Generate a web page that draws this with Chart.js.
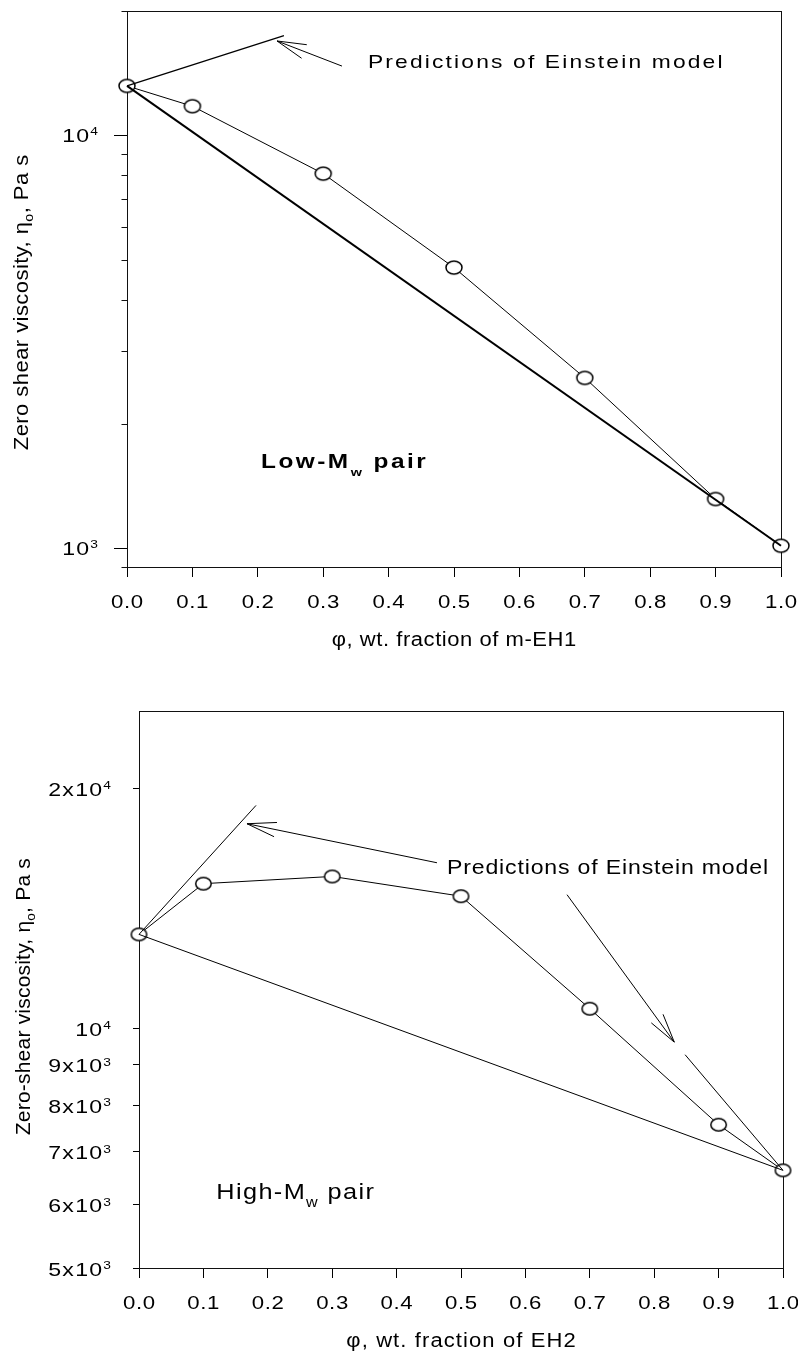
<!DOCTYPE html>
<html><head><meta charset="utf-8">
<script src="https://cdn.jsdelivr.net/npm/chart.js@4.4.1/dist/chart.umd.min.js"></script>
<style>
html,body{margin:0;padding:0;background:#fff;}
#wrap{position:relative;width:798px;height:1351px;background:#fff;}
canvas{position:absolute;left:0;}
</style></head><body>
<div id="wrap">
<canvas id="c1" width="798" height="675" style="top:0"></canvas>
<canvas id="c2" width="798" height="676" style="top:675px"></canvas>
</div>
<script>
// ---------- data ----------
const phi = [0, 0.1, 0.3, 0.5, 0.7, 0.9, 1.0];
const xTicks = [0, 0.1, 0.2, 0.3, 0.4, 0.5, 0.6, 0.7, 0.8, 0.9, 1.0];
const xTickLabels = ['0.0','0.1','0.2','0.3','0.4','0.5','0.6','0.7','0.8','0.9','1.0'];

// Low-Mw pair (top)
const lowMwViscosity = [13170, 11760, 8073, 4780, 2584, 1315, 1013];
const lowEinsteinLowerX = [0, 1.0];
const lowEinsteinLowerY = [13170, 1013];
const lowEinsteinUpperX = [0, 0.24];
const lowEinsteinUpperY = [13170, 17440];
const lowYTicks = [900, 1000, 2000, 3000, 4000, 5000, 6000, 7000, 8000, 9000, 10000, 20000];
const lowYTickLabels = ['', '10³', '', '', '', '', '', '', '', '', '10⁴', ''];
const lowYRange = [900, 20000];

// High-Mw pair (bottom)
const highMwViscosity = [13110, 15180, 15500, 14640, 10576, 7564, 6630];
const highEinsteinLowerX = [0, 1.0];
const highEinsteinLowerY = [13110, 6630];
const highEinsteinUpperX = [0, 0.1817];
const highEinsteinUpperY = [13110, 19030];
const highEinsteinRightX = [0.848, 1.0];
const highEinsteinRightY = [9260, 6630];
const highYTicks = [5000, 6000, 7000, 8000, 9000, 10000, 20000];
const highYTickLabels = ['5x10³', '6x10³', '7x10³', '8x10³', '9x10³', '10⁴', '2x10⁴'];
const highYRange = [5000, 25000];

// ---------- helpers ----------
const FONT = "Arial, 'Liberation Sans', Helvetica, sans-serif";
const SUP = {'⁰':'0','¹':'1','²':'2','³':'3','⁴':'4','⁵':'5','⁶':'6','⁷':'7','⁸':'8','⁹':'9'};
function pts(xs, ys) { return xs.map((x, i) => ({x: x, y: ys[i]})); }
function ellipseMarker(w, h, lw) {
  const c = document.createElement('canvas');
  c.width = w + 4; c.height = h + 4;
  const g = c.getContext('2d');
  g.beginPath();
  g.ellipse(c.width / 2, c.height / 2, w / 2, h / 2, 0, 0, Math.PI * 2);
  g.fillStyle = '#fff'; g.fill();
  g.lineWidth = lw; g.strokeStyle = '#000'; g.stroke();
  return c;
}
function fontOf(p) { return (p.weight || 'normal') + ' ' + p.size + 'px ' + FONT; }
// rich text: parts [{t,size,weight,dy}], horizontal stretch hs, letter spacing sp
function drawRich(ctx, parts, x, y, sp, hs, align) {
  ctx.save();
  ctx.textBaseline = 'alphabetic';
  ctx.textAlign = 'left';
  ctx.fillStyle = '#000';
  ctx.letterSpacing = '0px';
  const widths = parts.map(p => { ctx.font = fontOf(p); return ctx.measureText(p.t).width + sp * [...p.t].length; });
  const total = widths.reduce((a, b) => a + b, 0) - sp;
  ctx.translate(x, y);
  ctx.scale(hs, 1);
  let cx = align === 'center' ? -total / 2 : align === 'right' ? -total : 0;
  ctx.letterSpacing = sp + 'px';
  parts.forEach((p, i) => { ctx.font = fontOf(p); ctx.fillText(p.t, cx, p.dy || 0); cx += widths[i]; });
  ctx.restore();
}
function labelParts(s, size, supSize, supDy) {
  const chars = [...s];
  let i = chars.length;
  while (i > 0 && SUP[chars[i - 1]]) i--;
  const parts = [{t: chars.slice(0, i).join(''), size: size}];
  const sup = chars.slice(i).map(c => SUP[c]).join('');
  if (sup) parts.push({t: sup, size: supSize, dy: supDy});
  return parts;
}
function drawArrow(ctx, x1, y1, x2, y2, len, ang) {
  ctx.beginPath();
  ctx.moveTo(x1, y1); ctx.lineTo(x2, y2);
  const a = Math.atan2(y1 - y2, x1 - x2);
  ctx.moveTo(x2 + len * Math.cos(a + ang), y2 + len * Math.sin(a + ang));
  ctx.lineTo(x2, y2);
  ctx.lineTo(x2 + len * Math.cos(a - ang), y2 + len * Math.sin(a - ang));
  ctx.stroke();
}

const notesPlugin = {
  id: 'notes',
  beforeDatasetsDraw(chart, args, o) {
    const {ctx, chartArea: a} = chart;
    ctx.save();
    ctx.strokeStyle = '#111'; ctx.lineWidth = 1;
    const l = Math.round(a.left) + 0.5, t = Math.round(a.top) + 0.5;
    const r = Math.round(a.right) + 0.5, b = Math.round(a.bottom) + 0.5;
    ctx.strokeRect(l, t, r - l, b - t);
    const ys = chart.scales.y;
    if (o.minorLen) {
      ctx.beginPath();
      ys.ticks.forEach((tk, i) => {
        if (o.yLabels[i] === '') {
          const py = Math.round(ys.getPixelForValue(tk.value)) + 0.5;
          ctx.moveTo(l - o.minorLen, py); ctx.lineTo(l, py);
        }
      });
      ctx.stroke();
    }
    ctx.restore();
  },
  afterDraw(chart, args, o) {
    const {ctx, chartArea: a} = chart;
    const xs = chart.scales.x, ys = chart.scales.y;
    const px = v => xs.getPixelForValue(v), py = v => ys.getPixelForValue(v);
    ctx.save();
    ctx.strokeStyle = '#000'; ctx.lineWidth = 1;
    // tick labels, placed by the library scales
    xs.ticks.forEach((tk, i) => {
      drawRich(ctx, [{t: xTickLabels[i], size: 18.5}], px(tk.value), a.bottom + 41, 0.5, 1.2, 'center');
    });
    ys.ticks.forEach((tk, i) => {
      const s = o.yLabels[i];
      if (s) drawRich(ctx, labelParts(s, 18.5, 11, -6.5), a.left - o.yLabelGap, py(tk.value) + o.yLabelDy, 1, 1.25, 'right');
    });
    (o.arrows || []).forEach(ar => {
      drawArrow(ctx, px(ar.from[0]), py(ar.from[1]), px(ar.to[0]), py(ar.to[1]), 30, 14 * Math.PI / 180);
    });
    (o.texts || []).forEach(tx => {
      drawRich(ctx, tx.parts, px(tx.at[0]), py(tx.at[1]), tx.spacing, tx.hs, 'left');
    });
    const yt = o.yTitle;
    ctx.save();
    ctx.translate(yt.x, yt.y);
    ctx.rotate(-Math.PI / 2);
    drawRich(ctx, yt.parts, 0, 0, yt.spacing, yt.hs, 'center');
    ctx.restore();
    const xt = o.xTitle;
    drawRich(ctx, xt.parts, (a.left + a.right) / 2, xt.y, xt.spacing, xt.hs, 'center');
    ctx.restore();
  }
};

function lineDs(xs, ys, width) {
  return {data: pts(xs, ys), borderColor: '#000', borderWidth: width, pointRadius: 0,
          fill: false, tension: 0, clip: false};
}

function build(id, c) {
  return new Chart(document.getElementById(id), {
    type: 'line',
    data: {datasets: c.datasets},
    options: {
      responsive: false, animation: false, devicePixelRatio: 1, events: [],
      layout: {padding: c.padding},
      plugins: {legend: {display: false}, tooltip: {enabled: false}, notes: c.notes},
      scales: {
        x: {
          type: 'linear', min: 0, max: 1,
          afterBuildTicks: s => { s.ticks = xTicks.map(v => ({value: v})); },
          afterFit: s => { s.height = c.xHeight; },
          ticks: {display: false, callback: (v, i) => xTickLabels[i], autoSkip: false, maxRotation: 0},
          grid: {drawOnChartArea: false, drawTicks: true, tickLength: 10, color: '#000', tickColor: '#000', tickWidth: 1},
          border: {display: false}
        },
        y: {
          type: 'logarithmic', min: c.yRange[0], max: c.yRange[1],
          afterBuildTicks: s => { s.ticks = c.yTicks.map(v => ({value: v})); },
          afterFit: s => { s.width = c.yWidth; },
          ticks: {display: false, callback: (v, i) => c.yLabels[i], autoSkip: false},
          grid: {drawOnChartArea: false, drawTicks: true, tickLength: c.yTickLen, color: '#000',
                 tickColor: ctx => c.yLabels[ctx.index] ? '#000' : 'rgba(0,0,0,0)', tickWidth: 1},
          border: {display: false}
        }
      }
    },
    plugins: [notesPlugin]
  });
}

const markerTop = ellipseMarker(16, 13, 1.5);
const markerBottom = ellipseMarker(15.5, 12.5, 1.5);

build('c1', {
  padding: {top: 11, right: 17, left: 0, bottom: 0},
  xHeight: 108, yWidth: 127, yTickLen: 13,
  yRange: lowYRange, yTicks: lowYTicks, yLabels: lowYTickLabels,
  datasets: [
    lineDs(lowEinsteinUpperX, lowEinsteinUpperY, 1.3),
    lineDs(lowEinsteinLowerX, lowEinsteinLowerY, 2),
    {data: pts(phi, lowMwViscosity), borderColor: '#000', borderWidth: 1, tension: 0, fill: false, clip: false,
     pointStyle: markerTop, pointRadius: 8}
  ],
  notes: {
    minorLen: 6, yLabels: lowYTickLabels, yLabelGap: 29, yLabelDy: 6.7,
    arrows: [{from: [0.3287, 14710], to: [0.2294, 16920]}],
    texts: [
      {at: [0.3685, 14521], parts: [{t: 'Predictions of Einstein model', size: 19}], spacing: 1.8, hs: 1.2},
      {at: [0.2049, 1564], parts: [{t: 'Low-M', size: 19.5, weight: 'bold'}, {t: 'w', size: 11.5, weight: 'bold', dy: 8},
                                   {t: ' pair', size: 19.5, weight: 'bold'}], spacing: 2, hs: 1.25}
    ],
    yTitle: {x: 28, y: 302.5, spacing: 0.4, hs: 1.1,
             parts: [{t: 'Zero shear viscosity, η', size: 20}, {t: 'o', size: 13, dy: 5}, {t: ', Pa s', size: 20}]},
    xTitle: {y: 646, spacing: 0.5, hs: 1.1, parts: [{t: 'φ, wt. fraction of m-EH1', size: 20}]}
  }
});

build('c2', {
  padding: {top: 36, right: 15, left: 0, bottom: 0},
  xHeight: 83, yWidth: 139, yTickLen: 6,
  yRange: highYRange, yTicks: highYTicks, yLabels: highYTickLabels,
  datasets: [
    lineDs(highEinsteinUpperX, highEinsteinUpperY, 1),
    lineDs(highEinsteinRightX, highEinsteinRightY, 1),
    lineDs(highEinsteinLowerX, highEinsteinLowerY, 1),
    {data: pts(phi, highMwViscosity), borderColor: '#000', borderWidth: 1, tension: 0, fill: false, clip: false,
     pointStyle: markerBottom, pointRadius: 8}
  ],
  notes: {
    minorLen: 0, yLabels: highYTickLabels, yLabelGap: 28, yLabelDy: 7.5,
    arrows: [{from: [0.4627, 16125], to: [0.1677, 18050]}, {from: [0.6646, 14704], to: [0.8312, 9603]}],
    texts: [
      {at: [0.4783, 15590], parts: [{t: 'Predictions of Einstein model', size: 21}], spacing: 0.75, hs: 1.1},
      {at: [0.12, 6109], parts: [{t: 'High-M', size: 22}, {t: 'w', size: 14, dy: 8}, {t: ' pair', size: 22}], spacing: 1.2, hs: 1.15}
    ],
    yTitle: {x: 30, y: 321.7, spacing: 0.2, hs: 1.05,
             parts: [{t: 'Zero-shear viscosity, η', size: 20}, {t: 'o', size: 13, dy: 5}, {t: ', Pa s', size: 20}]},
    xTitle: {y: 672, spacing: 1, hs: 1.1, parts: [{t: 'φ, wt. fraction of EH2', size: 20}]}
  }
});
</script>
</body></html>
